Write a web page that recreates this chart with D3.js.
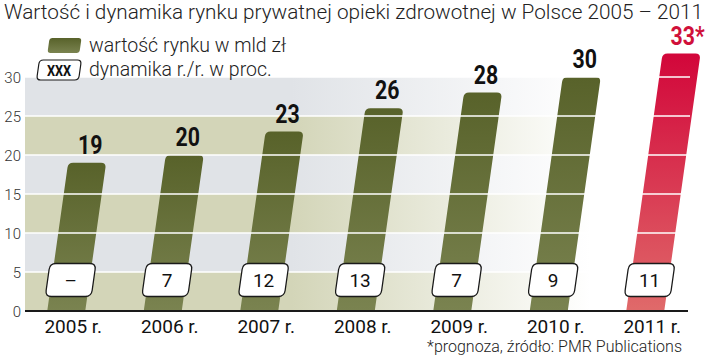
<!DOCTYPE html>
<html><head><meta charset="utf-8">
<script src="https://cdn.jsdelivr.net/npm/d3@7"></script>
<style>body{margin:0;background:#fff}svg{display:block}</style>
</head><body>
<script>
const years = ["2005 r.","2006 r.","2007 r.","2008 r.","2009 r.","2010 r.","2011 r."];
const values = [19,20,23,26,28,30,33];
const valueLabels = ["19","20","23","26","28","30","33*"];
const growth = ["–","7","12","13","7","9","11"];
const forecast = [false,false,false,false,false,false,true];
const yTicks = [0,5,10,15,20,25,30];
const bands = [[0,5],[5,10],[10,15],[15,20],[20,25],[25,30]];
const title = "Wartość i dynamika rynku prywatnej opieki zdrowotnej w Polsce 2005 – 2011";
const legendLabels = ["wartość rynku w mld zł","dynamika r./r. w proc."];
const footnote = "*prognoza, źródło: PMR Publications";

const W=720,H=360, K=0.141, BW=38, R=5;
const svg=d3.select("body").append("svg").attr("width",W).attr("height",H);
const defs=svg.append("defs");
function hgrad(id,col){const g=defs.append("linearGradient").attr("id",id).attr("x1",0).attr("x2",1).attr("y1",0).attr("y2",0).attr("gradientUnits","userSpaceOnUse").attr("x1",25).attr("x2",690);
 g.append("stop").attr("offset",0).attr("stop-color",col);
 g.append("stop").attr("offset",0.4).attr("stop-color",col);
 g.append("stop").attr("offset",0.85).attr("stop-color","#ffffff");
 g.append("stop").attr("offset",1).attr("stop-color","#ffffff");}
hgrad("gBeige","#d3d5b8"); hgrad("gGrey","#e0e3e7");
function vgrad(id,top,bot){const g=defs.append("linearGradient").attr("id",id).attr("x1",0).attr("x2",0).attr("y1",0).attr("y2",1);
 g.append("stop").attr("offset",0).attr("stop-color",top); g.append("stop").attr("offset",1).attr("stop-color",bot);}
vgrad("gOlive","#58622a","#7a8350"); vgrad("gRed","#d2063a","#e06a6a");

const y=d3.scaleLinear().domain([0,30]).range([311,77]);
const x=d3.scalePoint().domain(years).range([18,693.5]).padding(0.5);
const FONT="Roboto, 'Noto Sans', sans-serif";

// bands
svg.append("g").selectAll("rect").data(bands).join("rect")
 .attr("x",25).attr("width",665).attr("y",d=>y(d[1])).attr("height",d=>y(d[0])-y(d[1]))
 .attr("fill",(d,i)=>i%2===0?"url(#gBeige)":"url(#gGrey)");

// bars
function barPath(c,v){const y0=y(0),yt=y(v),h=y0-yt;
 const xlb=c-BW/2,xrb=c+BW/2,xlt=xlb+K*h,xrt=xrb+K*h;
 return `M${xlb},${y0}L${xlt-K*R},${yt+R}Q${xlt},${yt} ${xlt+R},${yt}L${xrt-R},${yt}Q${xrt},${yt} ${xrt-K*R},${yt+R}L${xrb},${y0}Z`;}
svg.append("g").selectAll("path").data(years).join("path")
 .attr("d",(d,i)=>barPath(x(d),values[i]))
 .attr("fill",(d,i)=>forecast[i]?"url(#gRed)":"url(#gOlive)");

// gridlines over bars
svg.append("g").selectAll("line").data(yTicks.filter(t=>t>0)).join("line")
 .attr("x1",25).attr("x2",690).attr("y1",d=>y(d)).attr("y2",d=>y(d))
 .attr("stroke","#fff").attr("stroke-width",1.6);
// baseline
svg.append("line").attr("x1",25).attr("x2",688).attr("y1",y(0)).attr("y2",y(0)).attr("stroke","#1a1a1a").attr("stroke-width",2);

// y tick labels
svg.append("g").selectAll("text").data(yTicks).join("text")
 .attr("x",21).attr("y",d=>y(d)+5.5).attr("text-anchor","end")
 .attr("font-family",FONT).attr("font-weight",300).attr("font-size",15).attr("fill","#333").text(d=>d);

// rounded parallelogram
function para(cx,cy,w,h,r){const hh=h/2,hw=w/2;
 const tl=[cx-hw+K*hh,cy-hh],tr=[cx+hw+K*hh,cy-hh],br=[cx+hw-K*hh,cy+hh],bl=[cx-hw-K*hh,cy+hh];
 return `M${tl[0]+r},${tl[1]}L${tr[0]-r},${tr[1]}Q${tr[0]},${tr[1]} ${tr[0]-K*r},${tr[1]+r}`+
 `L${br[0]+K*r},${br[1]-r}Q${br[0]},${br[1]} ${br[0]-r},${br[1]}`+
 `L${bl[0]+r},${bl[1]}Q${bl[0]},${bl[1]} ${bl[0]+K*r},${bl[1]-r}`+
 `L${tl[0]-K*r},${tl[1]+r}Q${tl[0]},${tl[1]} ${tl[0]+r},${tl[1]}Z`;}

// growth boxes
const BY=280;
const gb=svg.append("g").selectAll("g").data(years).join("g");
gb.append("path").attr("d",d=>para(x(d)+K*(y(0)-BY),BY,46,33,6)).attr("fill","#fff").attr("stroke","#1a1a1a").attr("stroke-width",1.3);
gb.append("text").attr("x",d=>x(d)+K*(y(0)-BY)).attr("y",BY+6.5).attr("text-anchor","middle")
 .attr("font-family",FONT).attr("font-size",19).attr("fill","#111").text((d,i)=>growth[i]);

// value labels
svg.append("g").selectAll("text").data(years).join("text")
 .attr("transform",(d,i)=>`translate(${x(d)+K*(y(0)-y(values[i]))+(forecast[i]?6:3)},${y(values[i])-9}) scale(0.82,1)`)
 .attr("text-anchor","middle").attr("font-family",FONT).attr("font-weight",700).attr("font-size",26)
 .attr("fill",(d,i)=>forecast[i]?"#d0103a":"#111").text((d,i)=>valueLabels[i]);

// x labels
svg.append("g").selectAll("text").data(years).join("text")
 .attr("x",d=>x(d)+7).attr("y",333).attr("text-anchor","middle")
 .attr("font-family",FONT).attr("font-size",19).attr("fill","#111").text(d=>d);

// title
svg.append("text").attr("x",4).attr("y",19).attr("textLength",699).attr("lengthAdjust","spacingAndGlyphs")
 .attr("font-family",FONT).attr("font-weight",300).attr("font-size",19.5).attr("fill","#222").text(title);

// legend
svg.append("path").attr("d",para(64.5,45.5,32,15,3)).attr("fill","url(#gOlive)");
svg.append("path").attr("d",para(59,70,42,20,4)).attr("fill","#fff").attr("stroke","#1a1a1a").attr("stroke-width",1.2);
svg.append("text").attr("transform","translate(59,75.5) scale(0.85,1)").attr("text-anchor","middle")
 .attr("font-family",FONT).attr("font-weight",700).attr("font-size",15).attr("fill","#111").text("XXX");
svg.append("g").selectAll("text").data(legendLabels).join("text")
 .attr("x",89).attr("y",(d,i)=>52+i*24).attr("font-family",FONT).attr("font-weight",300).attr("font-size",19.5).attr("fill","#222").text(d=>d);

// footnote
svg.append("text").attr("x",682).attr("y",352).attr("text-anchor","end")
 .attr("font-family",FONT).attr("font-weight",300).attr("font-size",16).attr("fill","#222").text(footnote);
</script>
</body></html>
